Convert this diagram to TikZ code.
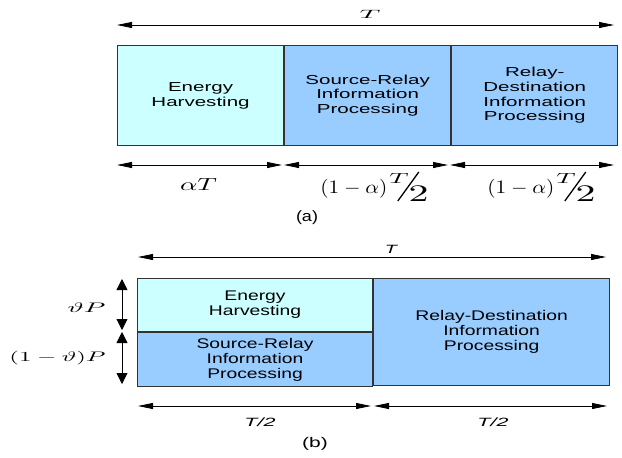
\documentclass[tikz,border=0pt]{standalone}
\usepackage{amsmath,amssymb}
\usepackage{fontspec}
\setsansfont{Liberation Sans}
\newfontfamily\slotfont[FakeStretch=1.58]{Liberation Sans}
\newfontfamily\slotfontb[FakeStretch=1.38]{Liberation Sans}
\definecolor{ehcyan}{HTML}{CCFFFF}
\definecolor{ipblue}{HTML}{99CCFF}
\definecolor{edgegray}{HTML}{333333}
\usetikzlibrary{arrows.meta}

\begin{document}
\begin{tikzpicture}[x=1pt,y=-1pt,
  slot/.style={draw=edgegray, line width=1.1pt, anchor=north west, inner sep=0pt,
    align=center, font=\slotfont\fontsize{13}{14.7}\selectfont},
  slotb/.style={slot, font=\slotfontb\fontsize{14}{15}\selectfont},
  span/.style={{Triangle[length=15pt,width=6pt]}-{Triangle[length=15pt,width=6pt]}, line width=0.8pt},
  vspan/.style={{Triangle[length=11pt,width=11pt]}-{Triangle[length=11pt,width=11pt]}, line width=0.8pt},
  tag/.style={inner sep=0pt, anchor=base},
  widen/.style 2 args={xscale=#1, yscale=#2, transform shape},
  fracbar/.style={line width=1.3pt}]
  \useasboundingbox (0,0) rectangle (622,458);

  % (a) three slots in a row
  \node[slot, fill=ehcyan, minimum width=166pt, minimum height=100pt] (eh) at (117,45) {Energy\\Harvesting};
  \node[slot, fill=ipblue, minimum width=166pt, minimum height=100pt] (sr) at (eh.north east) {Source-Relay\\Information\\Processing};
  \node[slot, fill=ipblue, minimum width=166pt, minimum height=100pt] (rd) at (sr.north east) {Relay-\\Destination\\Information\\Processing};

  \coordinate (ta0) at (117,25);
  \coordinate (ta1) at (614,25);
  \draw[span] (ta0) -- (ta1);
  \node[tag, widen={2.88}{1.2}] (lTa) at (370,18.3) {$T$};

  \coordinate (ba0) at (117,165);
  \coordinate (ba1) at (282,165);
  \coordinate (ba2) at (284,165);
  \coordinate (ba3) at (448,165);
  \coordinate (ba4) at (450,165);
  \coordinate (ba5) at (614,165);
  \draw[span] (ba0) -- (ba1);
  \draw[span] (ba2) -- (ba3);
  \draw[span] (ba4) -- (ba5);
  \node[tag, widen={2.7}{1.75}] (lalpha) at (198.5,190) {$\alpha T$};

  % (1-alpha) T/2, built twice
  \foreach \i/\x in {sr/320, rd/487} {
    \node[tag, anchor=base west, widen={2.13}{1.9}] (l\i) at (\x,193) {$(1-\alpha)$};
    \node[tag, anchor=base west, widen={2.66}{1.46}] (l\i T) at ([shift={(1,-10)}]l\i.base east) {$T$};
    \draw[fracbar] ([shift={(10,8)}]l\i.base east) -- ([shift={(31,-21)}]l\i.base east);
    \node[tag, anchor=base west, widen={3.99}{2.375}] (l\i 2) at ([shift={(20,8)}]l\i.base east) {$2$};
  }
  \node[tag, font=\sffamily, widen={1.8}{1.5}] (capa) at (307,221.8) {(a)};

  % (b) power split in the first half
  \node[slotb, fill=ehcyan, minimum width=235pt, minimum height=53pt] (ehb) at (137,278) {Energy\\Harvesting};
  \node[slotb, fill=ipblue, minimum width=235pt, minimum height=54pt] (srb) at (ehb.south west) {Source-Relay\\Information\\Processing};
  \node[slotb, fill=ipblue, minimum width=236pt, minimum height=107pt] (rdb) at (ehb.north east) {Relay-Destination\\Information\\Processing};

  \coordinate (tb0) at (138,257);
  \coordinate (tb1) at (606,257);
  \draw[span] (tb0) -- (tb1);
  \node[tag, font=\sffamily\itshape, widen={1.98}{1.2}] (lTb) at (391,253) {T};

  \coordinate (vb0) at (122,279);
  \coordinate (vb1) at (122,330);
  \coordinate (vb2) at (122,332);
  \coordinate (vb3) at (122,384);
  \draw[vspan] (vb0) -- (vb1);
  \draw[vspan] (vb2) -- (vb3);
  \node[tag, anchor=base east, widen={2.76}{1.38}] (ltheta) at (106,312) {$\vartheta P$};
  \node[tag, anchor=base east, widen={2.48}{1.38}] (lrest) at (106,361.7) {$(1-\vartheta)P$};

  \coordinate (bb0) at (138,406);
  \coordinate (bb1) at (371,406);
  \coordinate (bb2) at (374,406);
  \coordinate (bb3) at (607,406);
  \draw[span] (bb0) -- (bb1);
  \draw[span] (bb2) -- (bb3);
  \node[tag, font=\sffamily\itshape, widen={2.15}{1.2}] (lhalf1) at (260,426.7) {T/2};
  \node[tag, font=\sffamily\itshape, widen={2.15}{1.2}] (lhalf2) at (493,426.7) {T/2};
  \node[tag, font=\sffamily, widen={2.1}{1.4}] (capb) at (315,447) {(b)};
\end{tikzpicture}
\end{document}
